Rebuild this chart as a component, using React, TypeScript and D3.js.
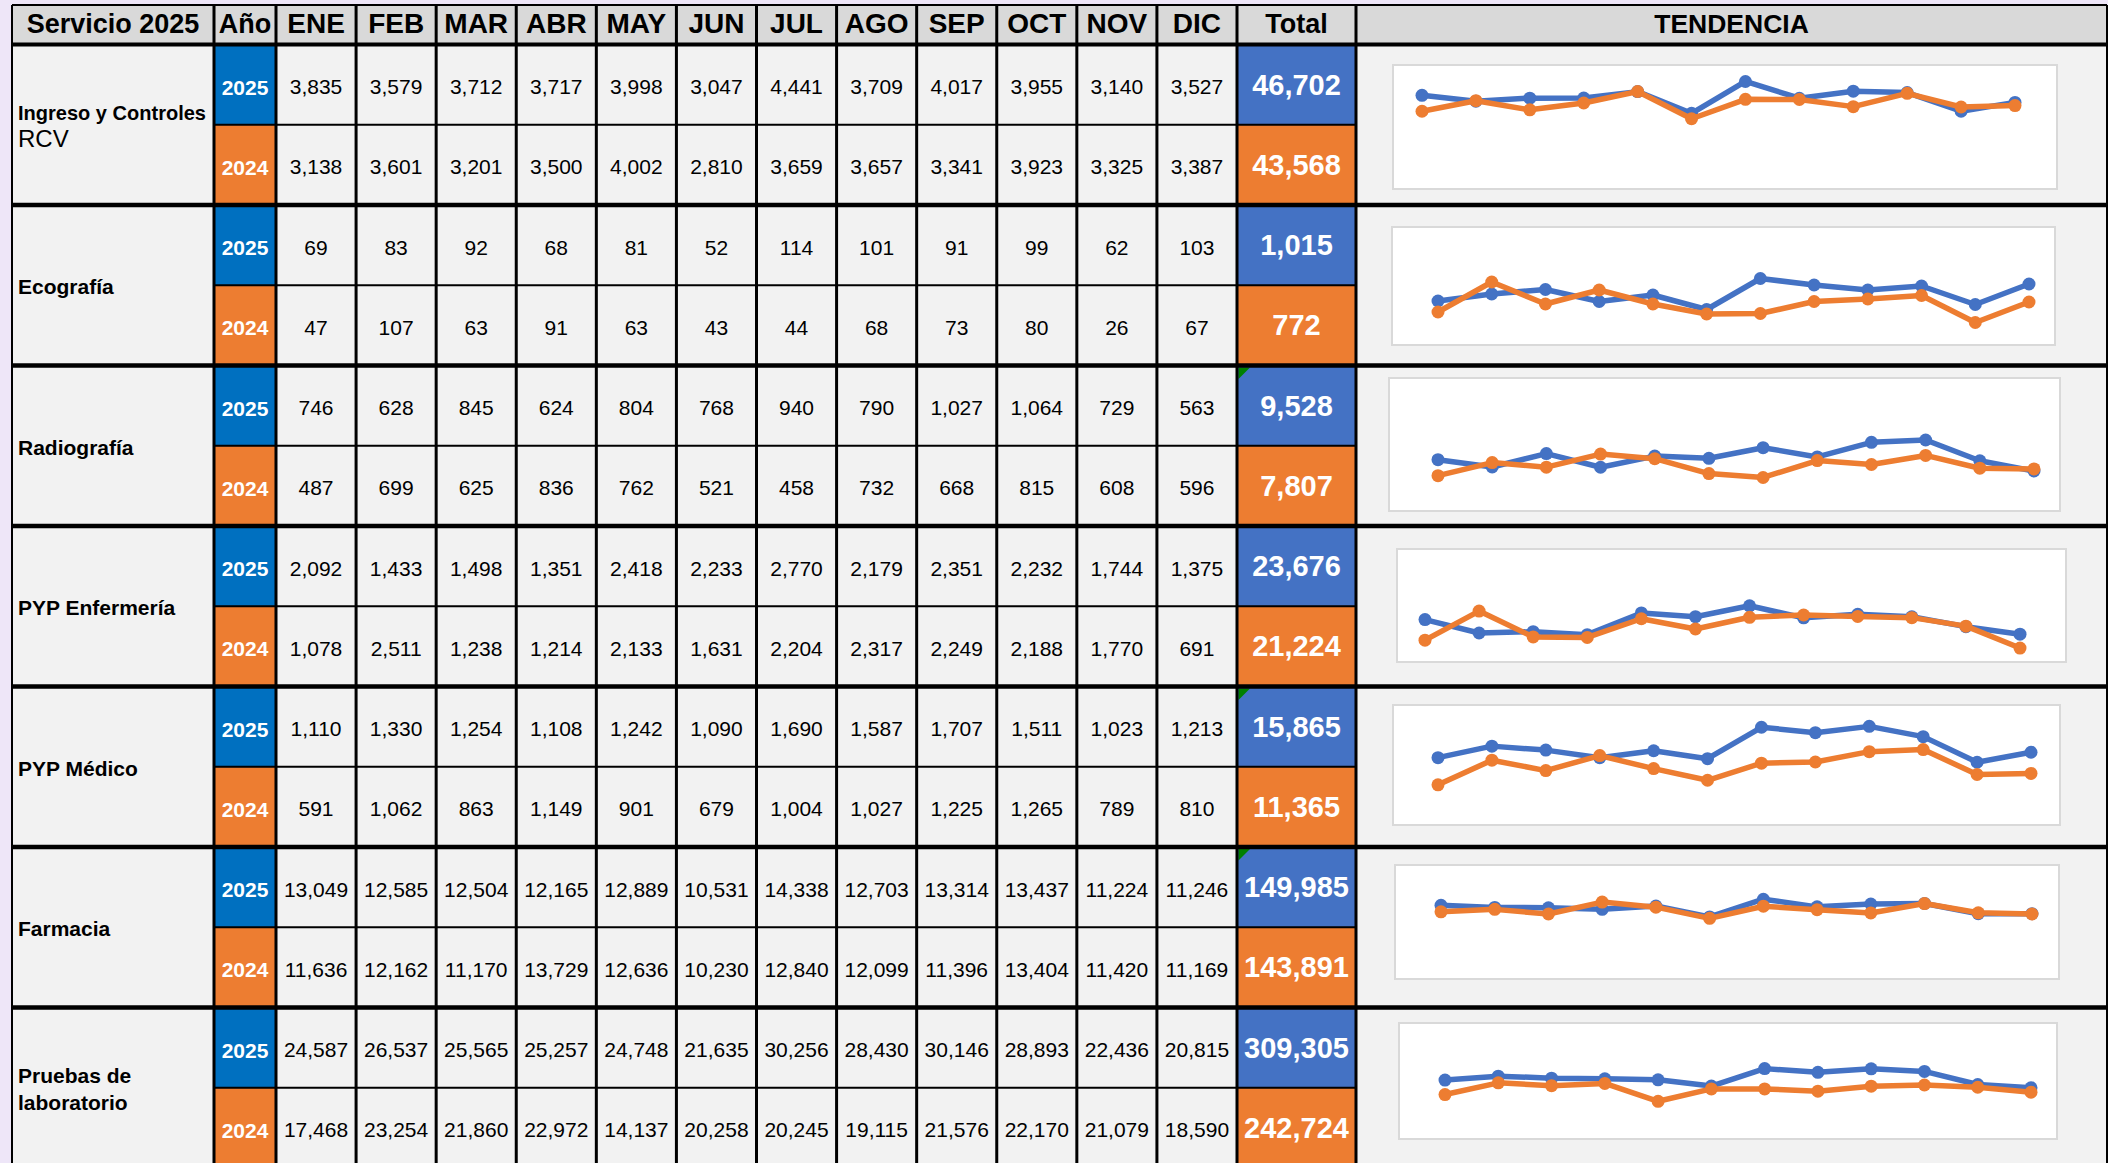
import React from "react";
import * as d3 from "d3";

// table data
const months = ["ENE", "FEB", "MAR", "ABR", "MAY", "JUN", "JUL", "AGO", "SEP", "OCT", "NOV", "DIC"];
const services = ["Ingreso y Controles RCV", "Ecografía", "Radiografía", "PYP Enfermería", "PYP Médico", "Farmacia", "Pruebas de laboratorio"];
const serviceLines = [["Ingreso y Controles", "RCV"], ["Ecografía"], ["Radiografía"], ["PYP Enfermería"], ["PYP Médico"], ["Farmacia"], ["Pruebas de", "laboratorio"]];
const years = ["2025", "2024"];

const values2025 = [
  [3835, 3579, 3712, 3717, 3998, 3047, 4441, 3709, 4017, 3955, 3140, 3527],
  [69, 83, 92, 68, 81, 52, 114, 101, 91, 99, 62, 103],
  [746, 628, 845, 624, 804, 768, 940, 790, 1027, 1064, 729, 563],
  [2092, 1433, 1498, 1351, 2418, 2233, 2770, 2179, 2351, 2232, 1744, 1375],
  [1110, 1330, 1254, 1108, 1242, 1090, 1690, 1587, 1707, 1511, 1023, 1213],
  [13049, 12585, 12504, 12165, 12889, 10531, 14338, 12703, 13314, 13437, 11224, 11246],
  [24587, 26537, 25565, 25257, 24748, 21635, 30256, 28430, 30146, 28893, 22436, 20815],
];
const values2024 = [
  [3138, 3601, 3201, 3500, 4002, 2810, 3659, 3657, 3341, 3923, 3325, 3387],
  [47, 107, 63, 91, 63, 43, 44, 68, 73, 80, 26, 67],
  [487, 699, 625, 836, 762, 521, 458, 732, 668, 815, 608, 596],
  [1078, 2511, 1238, 1214, 2133, 1631, 2204, 2317, 2249, 2188, 1770, 691],
  [591, 1062, 863, 1149, 901, 679, 1004, 1027, 1225, 1265, 789, 810],
  [11636, 12162, 11170, 13729, 12636, 10230, 12840, 12099, 11396, 13404, 11420, 11169],
  [17468, 23254, 21860, 22972, 14137, 20258, 20245, 19115, 21576, 22170, 21079, 18590],
];
const totals2025 = [46702, 1015, 9528, 23676, 15865, 149985, 309305];
const totals2024 = [43568, 772, 7807, 21224, 11365, 143891, 242724];
// cells with the green excel marker
const flagged = [2, 4, 5];

// y axis range of each little trend chart
const trendMin = [0, -7, 13, 300, -60, -1500, -1500];
const trendMax = [4900, 205, 1970, 5270, 2000, 20400, 49800];

// layout
const W = 2108;
const H = 1163;
const tableTop = 5;
const headerBottom = 44.5;
const blockH = 160.5;
const xLeft = 12;
const xAno = 214;
const xMonths = 276;
const xTotal = 1237;
const xTrend = 1356;
const xRight = 2107;
// [x0, y0, x1, y1] of each chart box, and first/last point x
const trendBoxes = [
  [1393, 65, 2057, 189],
  [1392, 227, 2055, 345],
  [1389, 378, 2060, 511],
  [1397, 549, 2066, 662],
  [1393, 705, 2060, 825],
  [1395, 865, 2059, 979],
  [1399, 1023, 2057, 1139],
];
const trendPts = [
  [1422, 2015],
  [1438, 2029],
  [1438, 2034],
  [1425, 2020],
  [1438, 2031],
  [1441, 2032],
  [1445, 2031],
];

const font = "'Liberation Sans', Arial, sans-serif";
const blueYear = "#0070C0";
const blue = "#4472C4";
const orange = "#ED7D31";
const fmt = d3.format(",");

export default function App() {
  const x = d3.scaleBand().domain(months).range([xMonths, xTotal]);
  const yBlock = d3.scaleBand().domain(services).range([headerBottom, headerBottom + blockH * services.length]);
  const rowH = blockH / 2;

  const verticals = [xLeft, xAno, xMonths, ...months.slice(1).map((m) => x(m)), xTotal, xTrend, xRight];

  return (
    <svg width={W} height={H} style={{ position: "absolute", left: 0, top: 0, display: "block" }} fontFamily={font}>
      <rect x={0} y={0} width={W} height={H} fill="#EEE6F8" />
      <rect x={xLeft} y={tableTop} width={xRight - xLeft} height={H} fill="#F2F2F2" />
      <rect x={xLeft} y={tableTop} width={xRight - xLeft} height={headerBottom - tableTop} fill="#D9D9D9" />

      {/* header */}
      <g fontWeight="bold" fontSize={27} fill="#000" textAnchor="middle">
        <text x={(xLeft + xAno) / 2} y={33}>Servicio 2025</text>
        <text x={(xAno + xMonths) / 2} y={33}>Año</text>
        {months.map((m) => (
          <text key={m} x={x(m) + x.bandwidth() / 2} y={33} fontSize={28}>{m}</text>
        ))}
        <text x={(xTotal + xTrend) / 2} y={33}>Total</text>
        <text x={(xTrend + xRight) / 2} y={33} fontSize={26.5}>TENDENCIA</text>
      </g>

      {services.map((s, i) => {
        const top = yBlock(s);
        const center = top + blockH / 2;
        const lines = serviceLines[i];
        const box = trendBoxes[i];
        const sx = d3.scalePoint().domain(months).range(trendPts[i]);
        const sy = d3.scaleLinear().domain([trendMin[i], trendMax[i]]).range([box[3] - 6, box[1] + 6]);
        const line = d3.line<number>().x((d, j) => sx(months[j])).y((d) => sy(d));
        const series = [values2025[i], values2024[i]];
        const totals = [totals2025[i], totals2024[i]];
        return (
          <g key={s}>
            {/* service label */}
            {lines.map((l, k) => {
              const regular = i === 0 && k === 1;
              const squeeze = i === 0 && k === 0;
              return (
                <text
                  key={k}
                  x={18}
                  y={center + 9 + (k - (lines.length - 1) / 2) * 27}
                  fontSize={regular ? 24 : 21}
                  fontWeight={regular ? "normal" : "bold"}
                  textLength={squeeze ? 188 : undefined}
                  lengthAdjust={squeeze ? "spacingAndGlyphs" : undefined}
                >
                  {l}
                </text>
              );
            })}

            {years.map((yr, r) => {
              const ry = top + r * rowH;
              return (
                <g key={yr}>
                  <rect x={xAno} y={ry} width={xMonths - xAno} height={rowH} fill={r === 0 ? blueYear : orange} />
                  <text x={(xAno + xMonths) / 2} y={ry + rowH / 2 + 10} fontSize={21} fontWeight="bold" fill="#fff" textAnchor="middle">
                    {yr}
                  </text>
                  {series[r].map((v, j) => (
                    <text key={j} x={x(months[j]) + x.bandwidth() / 2} y={ry + rowH / 2 + 9.5} fontSize={21} textAnchor="middle" fill="#000">
                      {fmt(v)}
                    </text>
                  ))}
                  <rect x={xTotal} y={ry} width={xTrend - xTotal} height={rowH} fill={r === 0 ? blue : orange} />
                  <text x={(xTotal + xTrend) / 2} y={ry + rowH / 2 + 10} fontSize={29} fontWeight="bold" fill="#fff" textAnchor="middle">
                    {fmt(totals[r])}
                  </text>
                </g>
              );
            })}
            {flagged.includes(i) && (
              <path d={`M${xTotal + 1.5},${top + 2}h11.5l-11.5,11.5z`} fill="#008000" />
            )}

            {/* trend chart */}
            <rect x={box[0]} y={box[1]} width={box[2] - box[0]} height={box[3] - box[1]} fill="#fff" stroke="#D9D9D9" strokeWidth={2} />
            {series.map((vals, r) => (
              <g key={r}>
                <path d={line(vals)} fill="none" stroke={r === 0 ? blue : orange} strokeWidth={5.5} strokeLinejoin="round" />
                {vals.map((v, j) => (
                  <circle key={j} cx={sx(months[j])} cy={sy(v)} r={6.5} fill={r === 0 ? blue : orange} />
                ))}
              </g>
            ))}

            {/* row separator */}
            <line x1={xAno} x2={xTrend} y1={top + rowH} y2={top + rowH} stroke="#000" strokeWidth={2} />
          </g>
        );
      })}

      {/* grid */}
      {verticals.map((vx, k) => (
        <line key={k} x1={vx} x2={vx} y1={tableTop} y2={H} stroke="#000" strokeWidth={k === 0 || k === verticals.length - 1 ? 2 : 3} />
      ))}
      <line x1={xLeft} x2={xRight} y1={tableTop} y2={tableTop} stroke="#000" strokeWidth={2} />
      <line x1={xLeft} x2={xRight} y1={headerBottom} y2={headerBottom} stroke="#000" strokeWidth={4} />
      {services.slice(1).map((s) => (
        <line key={s} x1={xLeft} x2={xRight} y1={yBlock(s)} y2={yBlock(s)} stroke="#000" strokeWidth={4.5} />
      ))}
    </svg>
  );
}
